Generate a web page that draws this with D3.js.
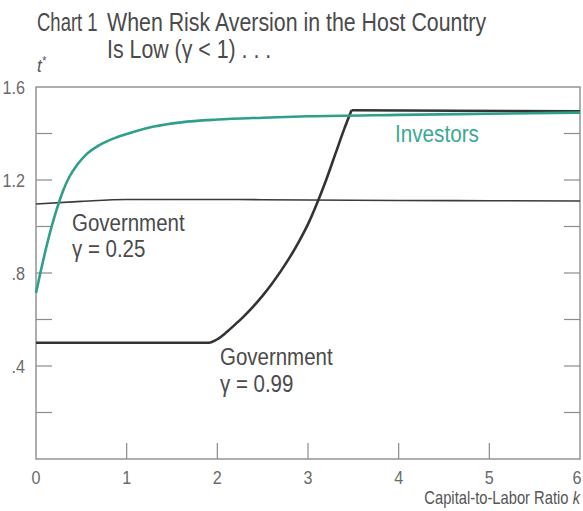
<!DOCTYPE html>
<html>
<head>
<meta charset="utf-8">
<script src="https://cdn.jsdelivr.net/npm/d3@7/dist/d3.min.js"></script>
<style>
  html, body { margin: 0; padding: 0; background: #fff; }
  svg { display: block; }
  text { font-family: "Liberation Sans", Arial, "Helvetica", sans-serif; fill: #4a4a4a; }
</style>
</head>
<body>
<svg id="chart" width="583" height="511"></svg>
<script>
// ---- Data ----
const xTicks = [0, 1, 2, 3, 4, 5, 6];
const xTickLabels = ["0", "1", "2", "3", "4", "5", "6"];
const yLabelValues = [1.6, 1.2, 0.8, 0.4];
const yLabelTexts = ["1.6", "1.2", ".8", ".4"];
const yMinorTicks = [0.2, 0.4, 0.6, 0.8, 1.0, 1.2, 1.4];

// Investors curve (k, z*)
const investorsK = [0, 0.05, 0.1, 0.15, 0.2, 0.25, 0.3, 0.37, 0.45, 0.55, 0.7, 0.9, 1.1, 1.3, 1.6, 2.0, 2.5, 3.0, 4.0, 5.0, 6.0];
const investorsV = [0.714, 0.804, 0.889, 0.967, 1.037, 1.10, 1.155, 1.215, 1.263, 1.308, 1.35, 1.385, 1.41, 1.43, 1.448, 1.46, 1.468, 1.474, 1.48, 1.485, 1.49];

// Government, gamma = 0.25
const gov25K = [0, 0.5, 1.0, 2.0, 3.0, 4.0, 5.0, 6.0];
const gov25V = [1.097, 1.108, 1.116, 1.116, 1.114, 1.112, 1.111, 1.11];

// Government, gamma = 0.99: flat part, rising part, upper flat part
const gov99FlatK = [0, 1.92];
const gov99FlatV = [0.5, 0.5];
const gov99RiseK = [1.92, 2.0, 2.1, 2.2, 2.3, 2.4, 2.5, 2.6, 2.7, 2.8, 2.9, 3.0, 3.1, 3.2, 3.3, 3.4, 3.48];
const gov99RiseV = [0.5, 0.515, 0.545, 0.58, 0.617, 0.658, 0.703, 0.753, 0.808, 0.868, 0.935, 1.01, 1.10, 1.20, 1.31, 1.42, 1.50];
const gov99TopK = [3.48, 6.0];
const gov99TopV = [1.50, 1.495];

const titleLine1a = "Chart 1";
const titleLine1b = "When Risk Aversion in the Host Country";
const titleLine2 = "Is Low (\u03b3 < 1) . . .";

// ---- Layout ----
const svg = d3.select("#chart");
const margin = { left: 36, right: 3, top: 87, bottom: 52 };
const W = 583, H = 511;
const x = d3.scaleLinear().domain([0, 6]).range([margin.left, W - margin.right]);
const y = d3.scaleLinear().domain([0, 1.6]).range([H - margin.bottom, margin.top]);

const zip = (ks, vs) => ks.map((k, i) => [k, vs[i]]);

// condensed text helper (horizontal scale to mimic a condensed face)
function ctext(parent, px, py, str, size, sx, opts = {}) {
  const t = parent.append("text")
    .attr("transform", `translate(${px},${py}) scale(${sx},1)`)
    .attr("x", 0).attr("y", 0)
    .attr("font-size", size)
    .attr("text-anchor", opts.anchor || "start");
  if (opts.fill) t.style("fill", opts.fill);
  if (str !== null) t.text(str);
  return t;
}

// Frame
const frameColor = "#8c8c8c";
svg.append("rect")
  .attr("x", x(0)).attr("y", y(1.6))
  .attr("width", x(6) - x(0)).attr("height", y(0) - y(1.6))
  .attr("fill", "none").attr("stroke", frameColor).attr("stroke-width", 1.4);

// Y ticks (left & right, inward)
const tickLen = 16;
svg.append("g").selectAll("line").data(yMinorTicks).join("line")
  .attr("x1", x(0)).attr("x2", x(0) + tickLen)
  .attr("y1", d => y(d)).attr("y2", d => y(d))
  .attr("stroke", frameColor).attr("stroke-width", 1.2);
svg.append("g").selectAll("line").data(yMinorTicks).join("line")
  .attr("x1", x(6)).attr("x2", x(6) - tickLen)
  .attr("y1", d => y(d)).attr("y2", d => y(d))
  .attr("stroke", frameColor).attr("stroke-width", 1.2);
// X ticks (upward)
svg.append("g").selectAll("line").data(xTicks.filter(d => d > 0 && d < 6)).join("line")
  .attr("x1", d => x(d)).attr("x2", d => x(d))
  .attr("y1", y(0)).attr("y2", y(0) - tickLen)
  .attr("stroke", frameColor).attr("stroke-width", 1.2);

// Tick labels
const tickFill = "#6a6a6a";
yLabelValues.forEach((v, i) => ctext(svg, 25, y(v) + 7, yLabelTexts[i], 19, 0.85, { anchor: "end", fill: tickFill }));
xTicks.forEach((v, i) => ctext(svg, Math.min(x(v), 577), 484, xTickLabels[i], 19, 0.85, { anchor: "middle", fill: tickFill }));

// Axis titles
const xt = ctext(svg, 580, 504, null, 18, 0.82, { anchor: "end", fill: "#555" });
xt.append("tspan").text("Capital-to-Labor Ratio ");
xt.append("tspan").attr("font-style", "italic").text("k");

const yt = ctext(svg, 37, 72, null, 19, 0.9, { fill: "#555" });
yt.attr("font-style", "italic");
yt.append("tspan").text("t");
yt.append("tspan").attr("dy", -7).attr("font-size", 12).text("*");

// Title
ctext(svg, 37, 31, titleLine1a, 25, 0.74);
ctext(svg, 107, 31, titleLine1b, 25, 0.854);
ctext(svg, 107, 58, titleLine2, 25, 0.854);

// Lines
const lineLin = d3.line().x(d => x(d[0])).y(d => y(d[1]));
const lineMono = d3.line().x(d => x(d[0])).y(d => y(d[1])).curve(d3.curveMonotoneX);

svg.append("path").datum(zip(gov25K, gov25V)).attr("d", lineMono)
  .attr("fill", "none").attr("stroke", "#3a3a3a").attr("stroke-width", 1.6);

const gov99 = svg.append("g").attr("fill", "none").attr("stroke", "#333").attr("stroke-width", 2.6).attr("stroke-linejoin", "miter");
gov99.append("path").datum(zip(gov99FlatK, gov99FlatV)).attr("d", lineLin);
gov99.append("path").datum(zip(gov99RiseK, gov99RiseV)).attr("d", lineMono);
gov99.append("path").datum(zip(gov99TopK, gov99TopV)).attr("d", lineLin);

svg.append("path").datum(zip(investorsK, investorsV)).attr("d", lineMono)
  .attr("fill", "none").attr("stroke", "#2f9f8c").attr("stroke-width", 2.6);

// Series labels
ctext(svg, 395, 142, "Investors", 23, 0.9, { fill: "#3aa893" });
ctext(svg, 72, 231, "Government", 23, 0.89);
ctext(svg, 72, 257, "\u03b3 = 0.25", 23, 0.89);
ctext(svg, 220, 365, "Government", 23, 0.89);
ctext(svg, 220, 392, "\u03b3 = 0.99", 23, 0.89);
</script>
</body>
</html>
